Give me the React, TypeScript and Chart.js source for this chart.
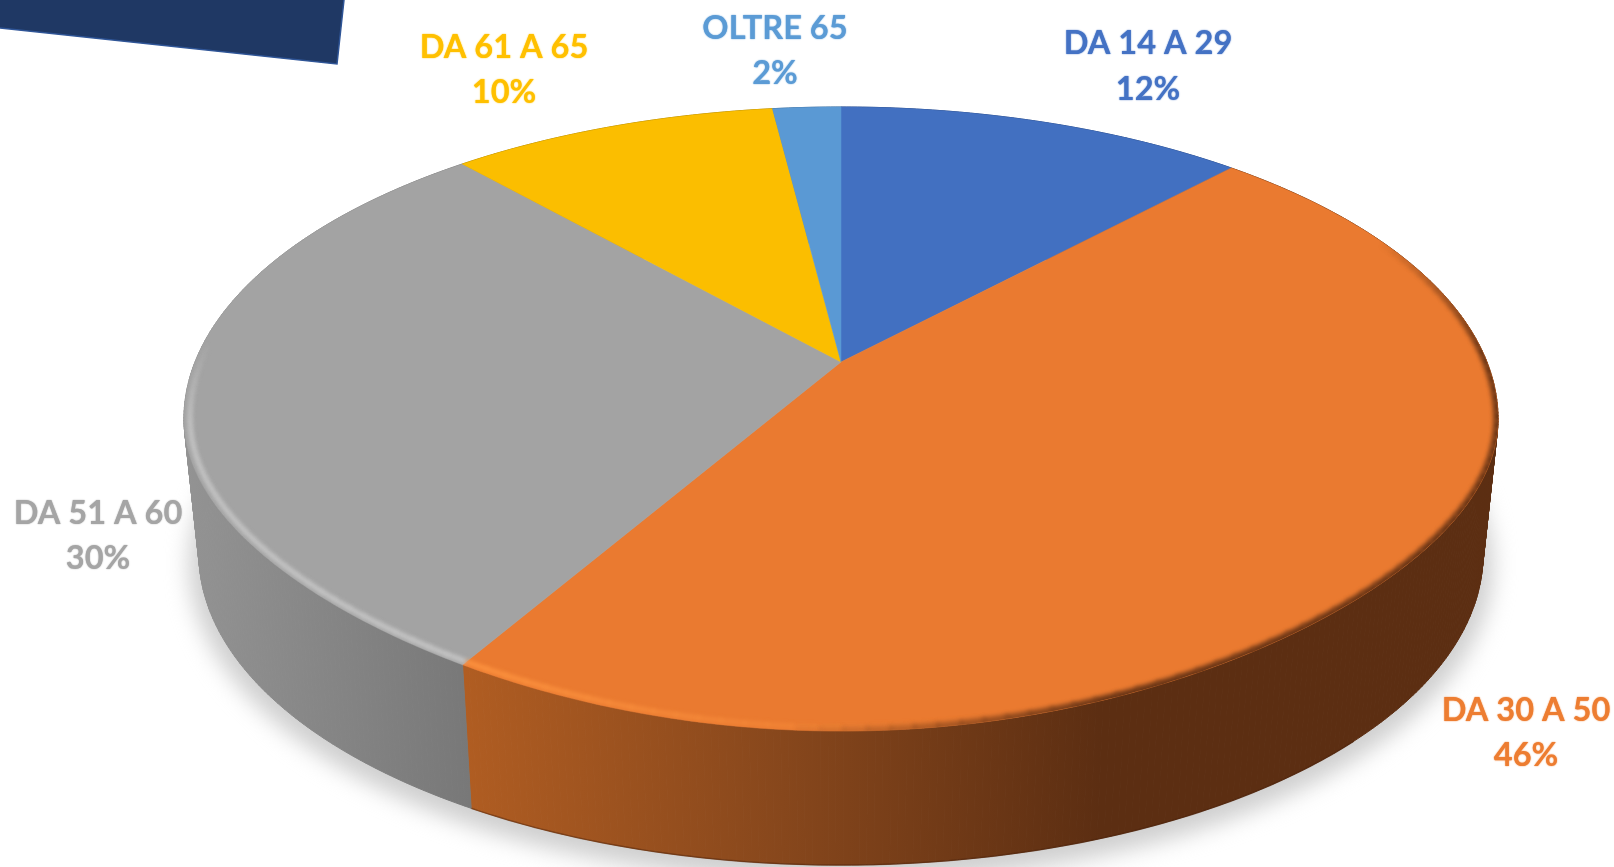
import React, { useEffect, useRef } from "react";
import { Chart, registerables } from "chart.js";

Chart.register(...registerables);

const categories = ["DA 14 A 29", "DA 30 A 50", "DA 51 A 60", "DA 61 A 65", "OLTRE 65"];
const shares = [12, 46.2, 30.2, 9.6, 2];
const faceColors = ["#4270C1", "#EA7A30", "#A3A3A3", "#FBBE00", "#5A99D4"];
const labelColors = ["#4472C4", "#ED7D31", "#A5A5A5", "#FFC000", "#5B9BD5"];
const wallStops = [
  ["#2A4A85", "#2A4A85"],
  ["#B05D22", "#87471C", "#5C2E12"],
  ["#939393", "#787878"],
  ["#A67F00", "#A67F00"],
  ["#3C6A94", "#3C6A94"],
];
const labelAnchors = [
  [1148, 43, 89],
  [1526, 710, 755],
  [98, 513, 558],
  [504, 47, 92],
  [775, 28, 73],
];

const W = 1614;
const H = 867;
const CX = 841;
const CY = 419;
const RX = 657;
const RY = 312;
const P = -0.1827;
const A = 646;
const B = 235.5;
const C = 362;

function rawPoint(u: number, v: number) {
  const d = 1 + P * v;
  return [CX + (A * u) / d, (B * v + C) / d];
}
function topPoint(u: number, v: number) {
  const [x, y] = rawPoint(u, v);
  if (y <= CY) return [x, y];
  const a = Math.abs(x - CX) / RX;
  return [x, CY + (y - CY) * (1 - 0.11 * a * a)];
}
function bottomPoint(u: number, v: number) {
  const [x, y] = rawPoint(u, v);
  return [CX + ((x - CX) * 642) / RX, 554 + ((y - CY) * 311) / RY];
}
function arcPts(fn: (u: number, v: number) => number[], a0: number, a1: number, k = 1) {
  const n = Math.max(2, Math.ceil(Math.abs(a1 - a0) / 0.01));
  const pts: number[][] = [];
  for (let i = 0; i <= n; i++) {
    const t = a0 + ((a1 - a0) * i) / n;
    pts.push(fn(Math.cos(t) * k, Math.sin(t) * k));
  }
  return pts;
}
function trace(ctx: CanvasRenderingContext2D, pts: number[][], move = true) {
  pts.forEach((p, i) => (i === 0 && move ? ctx.moveTo(p[0], p[1]) : ctx.lineTo(p[0], p[1])));
}

const pie3d = {
  id: "pie3d",
  beforeDatasetsDraw(chart: any) {
    const ctx: CanvasRenderingContext2D = chart.ctx;
    const arcs = chart.getDatasetMeta(0).data;
    ctx.save();

    // corner shape
    ctx.beginPath();
    ctx.moveTo(0, 0);
    ctx.lineTo(344, 0);
    ctx.lineTo(337, 64);
    ctx.lineTo(0, 28);
    ctx.closePath();
    ctx.fillStyle = "#1F3864";
    ctx.fill();
    ctx.beginPath();
    ctx.moveTo(0, 28);
    ctx.lineTo(337, 64);
    ctx.lineTo(344, 0);
    ctx.strokeStyle = "#2F5597";
    ctx.lineWidth = 1.5;
    ctx.stroke();

    // soft shadow
    ctx.save();
    ctx.filter = "blur(11px)";
    ctx.fillStyle = "#CFCFCF";
    ctx.beginPath();
    ctx.ellipse(CX, 564, 652, 318, 0, 0, Math.PI * 2);
    ctx.fill();
    ctx.restore();

    // side wall, as narrow quads so the strip can fold at the silhouette
    arcs.forEach((arc: any, i: number) => {
      const top = arcPts(topPoint, arc.startAngle, arc.endAngle);
      const bot = arcPts(bottomPoint, arc.startAngle, arc.endAngle);
      const xs = i === 1 ? [465, 1100] : [185, 470];
      const g = ctx.createLinearGradient(xs[0], 0, xs[1], 0);
      wallStops[i].forEach((c, k) => g.addColorStop(k / (wallStops[i].length - 1), c));
      ctx.fillStyle = g;
      ctx.strokeStyle = g;
      ctx.lineWidth = 1;
      for (let k = 0; k < top.length - 1; k++) {
        ctx.beginPath();
        ctx.moveTo(top[k][0], top[k][1]);
        ctx.lineTo(top[k + 1][0], top[k + 1][1]);
        ctx.lineTo(bot[k + 1][0], bot[k + 1][1]);
        ctx.lineTo(bot[k][0], bot[k][1]);
        ctx.closePath();
        ctx.fill();
        ctx.stroke();
      }
      if (i === 1) {
        ctx.beginPath();
        trace(ctx, arcPts(bottomPoint, (45 * Math.PI) / 180, arc.endAngle));
        ctx.strokeStyle = "rgba(70,32,8,0.45)";
        ctx.lineWidth = 1.5;
        ctx.stroke();
      }
    });

    // top face
    arcs.forEach((arc: any) => {
      ctx.beginPath();
      const apex = topPoint(0, 0);
      ctx.moveTo(apex[0], apex[1]);
      trace(ctx, arcPts(topPoint, arc.startAngle, arc.endAngle), false);
      ctx.closePath();
      ctx.fillStyle = arc.options.backgroundColor;
      ctx.fill();
      ctx.strokeStyle = arc.options.backgroundColor;
      ctx.lineWidth = 0.5;
      ctx.stroke();
    });

    // bevel along the rim
    ctx.save();
    ctx.beginPath();
    trace(ctx, arcPts(topPoint, 0, Math.PI * 2));
    ctx.closePath();
    ctx.clip();
    ctx.filter = "blur(2px)";
    const bevel = (a0: number, a1: number, k: number, rgb: string, width: number, alpha: (t: number) => number) => {
      const n = Math.ceil(Math.abs(a1 - a0) / 0.03);
      ctx.lineWidth = width;
      ctx.lineCap = "butt";
      for (let i = 0; i < n; i++) {
        const s = a0 + ((a1 - a0) * i) / n;
        const e = a0 + ((a1 - a0) * (i + 1.1)) / n;
        ctx.beginPath();
        trace(ctx, arcPts(topPoint, s, e, k));
        ctx.strokeStyle = `rgba(${rgb},${alpha(i / n)})`;
        ctx.stroke();
      }
    };
    const seam = arcs[1].endAngle;
    const grayEnd = (183 * Math.PI) / 180;
    bevel(seam, grayEnd, 0.991, "208,208,208", 4.5, (t) => (t > 0.75 ? (1 - t) * 3.4 : 0.85));
    bevel(seam, (80 * Math.PI) / 180, 0.991, "255,150,65", 4.5, (t) => 0.95 * (1 - t));
    bevel((95 * Math.PI) / 180, (-25 * Math.PI) / 180, 1, "94,47,19", 9, (t) => (t < 0.2 ? t * 4.5 : t > 0.8 ? (1 - t) * 4.5 : 0.9));
    ctx.restore();

    // labels
    ctx.textAlign = "center";
    ctx.textBaseline = "middle";
    ctx.font = 'bold 32.6px Lato, "Open Sans", sans-serif';
    categories.forEach((name, i) => {
      const [x, y1, y2] = labelAnchors[i];
      ctx.fillStyle = labelColors[i];
      ctx.shadowColor = labelColors[i];
      ctx.shadowBlur = 1.5;
      ctx.fillText(name, x, y1);
      ctx.fillText(`${shares[i].toFixed(0)}%`, x, y2);
    });

    ctx.restore();
    return false;
  },
};

export default function App() {
  const ref = useRef<HTMLCanvasElement>(null);
  useEffect(() => {
    document.body.style.margin = "0";
    const chart = new Chart(ref.current!, {
      type: "pie",
      data: {
        labels: categories,
        datasets: [{ data: shares, backgroundColor: faceColors, borderWidth: 0 }],
      },
      options: {
        animation: false,
        responsive: false,
        plugins: { legend: { display: false }, tooltip: { enabled: false }, title: { display: false } },
      },
      plugins: [pie3d],
    } as any);
    return () => chart.destroy();
  }, []);
  return (
    <div style={{ position: "fixed", inset: 0, background: "#fff", overflow: "hidden" }}>
      <canvas ref={ref} width={W} height={H} style={{ display: "block", width: W, height: H }} />
    </div>
  );
}
